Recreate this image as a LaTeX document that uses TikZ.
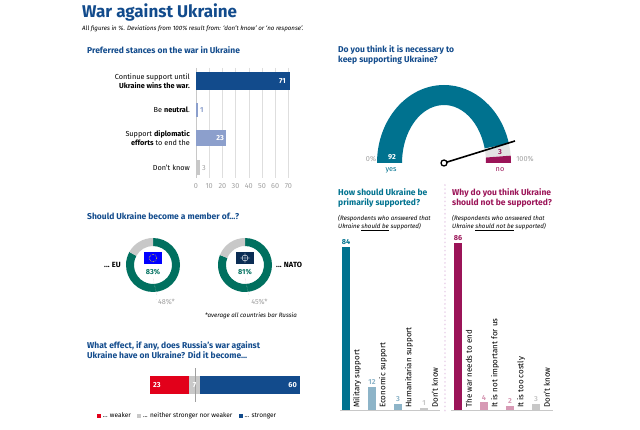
\documentclass[tikz,border=0pt]{standalone}
\usepackage{fontspec}
\setmainfont{Fira Sans}
\usetikzlibrary{calc}
\begin{document}
\definecolor{navy}{HTML}{124B8C}
\definecolor{lblue}{HTML}{8C9FCC}
\definecolor{teal}{HTML}{00728F}
\definecolor{dgreen}{HTML}{00705F}
\definecolor{mag}{HTML}{9B1458}
\definecolor{wred}{HTML}{E2001A}
\definecolor{gr}{HTML}{C8C8C8}
\definecolor{grt}{HTML}{A0A0A0}
\definecolor{ltb}{HTML}{8DB4C8}
\definecolor{ltm}{HTML}{D79AB5}
\begin{tikzpicture}[x=1pt,y=1pt,
  hd/.style={font=\fontsize{8.5}{10}\selectfont\bfseries,text=navy,anchor=west,align=left,inner sep=0},
  lab/.style={font=\fontsize{7.3}{8.7}\selectfont,inner sep=0},
  it/.style={font=\fontsize{6.2}{7.5}\selectfont\itshape,inner sep=0,anchor=west,align=left},
  rl/.style={font=\fontsize{8}{9}\selectfont,rotate=90,anchor=west,inner sep=0},
  vl/.style={font=\fontsize{7.3}{8}\selectfont\bfseries,inner sep=0}]
\useasboundingbox (0,0) rectangle (640,-430);
% title
\node[hd,font=\fontsize{17}{19}\selectfont\bfseries] (title) at (82,-12) {War against Ukraine};
\node[it] (sub) at (82,-29) {All figures in \%. Deviations from 100\% result from: ‘don’t know’ or ‘no response’.};
% ---- stances
\node[hd] (h1) at (87,-50) {Preferred stances on the war in Ukraine};
\foreach \v in {10,20,...,70}{\draw[gr!60,line width=0.4] (196+1.32*\v,-68)--(196+1.32*\v,-178);}
\foreach \v in {0,10,...,70}{\node[lab,text=grt] (ax\v) at (196+1.32*\v,-186) {\v};}
\draw[gr,line width=0.6] (196,-68)--(196,-178);
\fill[navy] (196,-72) rectangle (289.7,-90);
\node[vl,text=white,anchor=east] (v71) at (286,-81) {71};
\fill[lblue] (196,-103) rectangle (197.5,-117);
\node[vl,text=lblue,anchor=west] (v1) at (200,-110) {1};
\fill[lblue] (196,-130) rectangle (226.4,-146);
\node[vl,text=white,anchor=east] (v23) at (224,-138) {23};
\fill[gr] (196,-160) rectangle (200,-175);
\node[lab,text=grt,anchor=west] (v3) at (202,-168) {3};
\node[lab,anchor=east,align=right] (l1) at (190,-81) {Continue support until\\\textbf{Ukraine wins the war.}};
\node[lab,anchor=east] (l2) at (190,-110) {Be \textbf{neutral}.};
\node[lab,anchor=east,align=right] (l3) at (190,-138) {Support \textbf{diplomatic}\\\textbf{efforts} to end the};
\node[lab,anchor=east] (l4) at (190,-168) {Don't know};
% ---- membership
\node[hd] (h2) at (87,-216) {Should Ukraine become a member of...?};
\foreach \cx/\p/\nm/\fl in {153/83/eu/blue,245/81/nato/navy!60!black}{
  \pgfmathsetmacro\e{90-3.6*\p}
  \fill[dgreen] (\cx,-265) ++(90:27) arc[start angle=90,end angle=\e,radius=27] -- ++(\e:-8) arc[start angle=\e,end angle=90,radius=19] -- cycle;
  \fill[gr] (\cx,-265) ++(\e:27) arc[start angle=\e,end angle=-270,radius=27] -- ++(90:-8) arc[start angle=90,end angle=\e+360,radius=19] -- cycle;
  \fill[\fl] (\cx-9,-252) rectangle (\cx+9,-264);
  \node[vl,text=dgreen] (p\nm) at (\cx,-272) {\p\%};
  \draw[gr,densely dotted] (\cx,-278) -- (\cx+4,-296);
}
\draw[yellow,densely dotted,line width=0.6] (153,-258) circle (3.8);
\draw[white,line width=0.4] (245,-258) circle (3) (240,-258)--(250,-258) (245,-253)--(245,-263);
\node[lab,font=\fontsize{7.5}{8}\selectfont\bfseries,anchor=east] (eu) at (121,-265) {... EU};
\node[lab,font=\fontsize{7.5}{8}\selectfont\bfseries,anchor=west] (nato) at (276,-265) {... NATO};
\node[lab,text=grt] (a48) at (165,-302) {$^{\cdot}$48\%*};
\node[lab,text=grt] (a45) at (258,-302) {$^{\cdot}$45\%*};
\node[it,anchor=center] (avg) at (251,-316) {*average all countries bar Russia};
% ---- effect
\node[hd] (h3) at (87,-350) {What effect, if any, does Russia's war against\\Ukraine have on Ukraine? Did it become...};
\fill[wred] (150,-376) rectangle (189,-394);
\fill[gr] (189,-376) rectangle (200,-394);
\fill[navy] (200,-376) rectangle (300,-394);
\draw[grt,line width=0.6] (195,-368)--(195,-402);
\node[vl,text=white,anchor=west] (e23) at (153,-385) {23};
\node[vl,text=white] (e7) at (194.5,-385) {7};
\node[vl,text=white,anchor=east] (e60) at (297,-385) {60};
\node[lab,font=\fontsize{6.5}{7}\selectfont,anchor=west] (lg) at (97,-416) {\textcolor{wred}{\rule{4pt}{4pt}} ... weaker\quad\textcolor{gr}{\rule{4pt}{4pt}} ... neither stronger nor weaker\quad\textcolor{navy}{\rule{4pt}{4pt}} ... stronger};
% ---- gauge
\node[hd] (h4) at (338,-55) {Do you think it is necessary to\\keep supporting Ukraine?};
\coordinate (c) at (444,-163);
\fill[teal] ($(c)+(180:67 and 78)$) arc[start angle=180,end angle=14.4,x radius=67,y radius=78] -- ($(c)+(14.4:42 and 58)$) arc[start angle=14.4,end angle=180,x radius=42,y radius=58] -- cycle;
\fill[gr!50] ($(c)+(14.4:67 and 78)$) arc[start angle=14.4,end angle=5.4,x radius=67,y radius=78] -- ($(c)+(5.4:42 and 58)$) arc[start angle=5.4,end angle=14.4,x radius=42,y radius=58] -- cycle;
\fill[mag] ($(c)+(5.4:67 and 78)$) arc[start angle=5.4,end angle=0,x radius=67,y radius=78] -- ($(c)+(0:42 and 58)$) arc[start angle=0,end angle=5.4,x radius=42,y radius=58] -- cycle;
\coordinate (ntip) at (515,-141);
\draw[line width=1.6] (c) -- (ntip);
\node[circle,draw,line width=1.3,fill=white,minimum size=6pt,inner sep=0] (hub) at (c) {};
\node[lab,text=grt] (z0) at (371,-159) {0\%};
\node[vl,text=white] (y92) at (392,-157) {92};
\node[lab,text=teal] (yes) at (391,-170) {yes};
\node[vl,text=mag] (n3) at (500,-152) {3};
\node[lab,text=mag] (no) at (500,-170) {no};
\node[lab,text=grt] (z100) at (525,-159) {100\%};
% ---- bottom right
\node[hd,text=teal] (h5) at (338,-198) {How should Ukraine be\\primarily supported?};
\node[hd,text=mag] (h6) at (452,-198) {Why do you think Ukraine\\should not be supported?};
\node[it] (s5) at (338,-223) {(Respondents who answered that\\Ukraine \underline{should be} supported)};
\node[it] (s6) at (452,-223) {(Respondents who answered that\\Ukraine \underline{should not be} supported)};
\draw[violet!15,line width=2,dash pattern=on 0.1pt off 4pt,line cap=round] (445,-185)--(445,-412);
\foreach \x/\v/\c/\t/\n in {342/84/teal/Military support/a,368/12/ltb/Economic support/b,394/3/ltb/Humanitarian support/c,420/1/gr/Don't know/d,
  454/86/mag/The war needs to end/e,480/4/ltm/It is not important for us/f,506/2/ltm/It is too costly/g,532/3/gr/Don't know/h}{
  \fill[\c] (\x,-410) rectangle (\x+8,-410+1.94*\v);
  \node[vl,text=\c,anchor=south] (bv\n) at (\x+4,-408+1.94*\v) {\v};
  \node[rl] (bl\n) at (\x+15,-408) {\t};
}
\draw[gr,line width=0.5] (340,-410.5)--(440,-410.5) (451,-410.5)--(553,-410.5);
\end{tikzpicture}
\end{document}
